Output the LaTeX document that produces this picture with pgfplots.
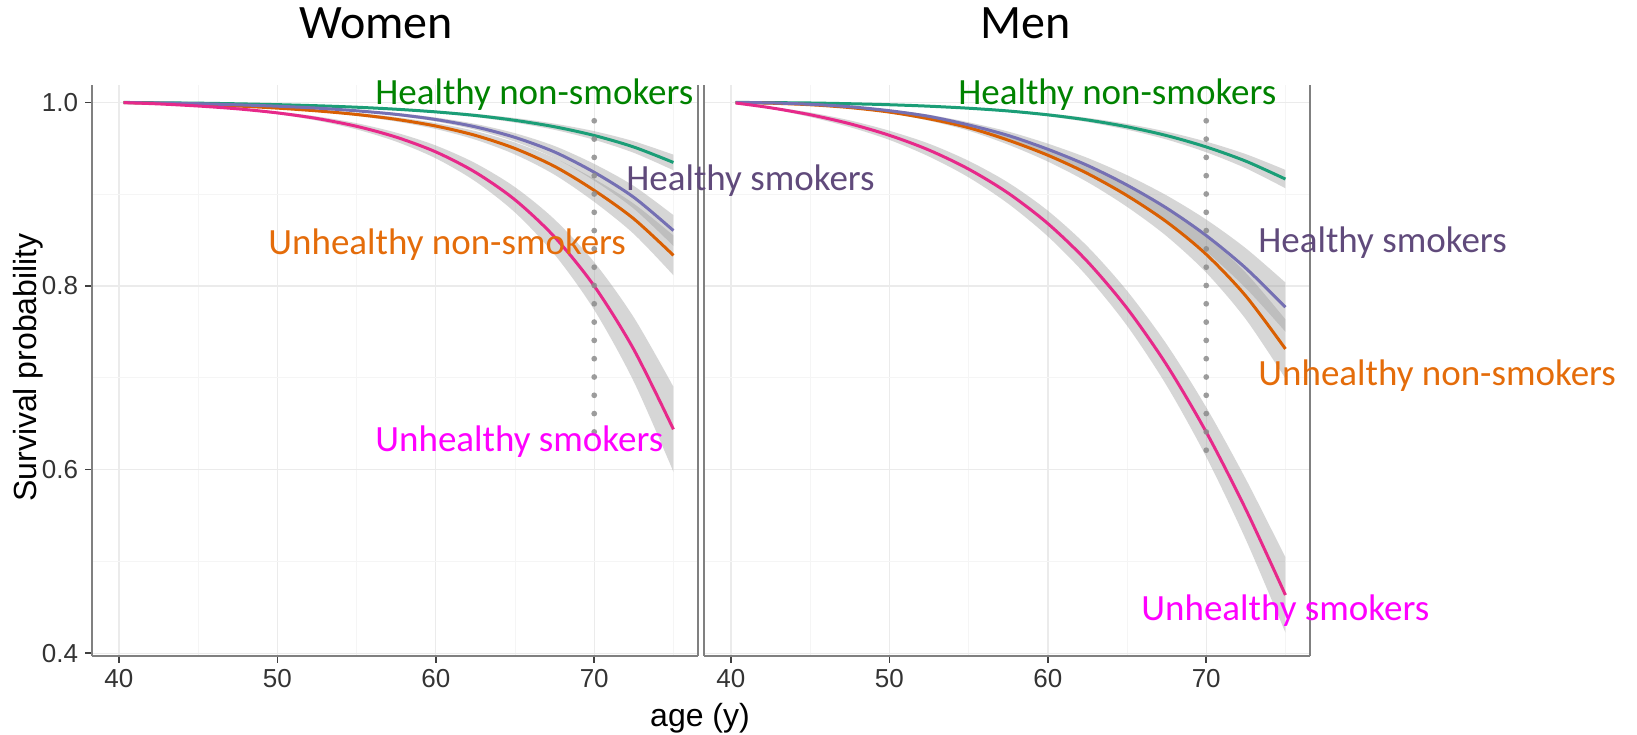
\documentclass[border=0pt]{standalone}
\usepackage{fontspec}
\setmainfont{Liberation Sans}
\newfontfamily\calibri{Carlito}
\usepackage{pgfplots}
\pgfplotsset{compat=1.18}
\usepackage{pgfplotstable}
\usepgfplotslibrary{fillbetween}

\definecolor{cgreen}{RGB}{27,158,119}
\definecolor{corange}{RGB}{217,95,2}
\definecolor{cpurple}{RGB}{117,112,179}
\definecolor{cpink}{RGB}{231,41,138}
\definecolor{cband}{RGB}{153,153,153}
\definecolor{cdot}{RGB}{140,140,140}
\definecolor{lgreen}{RGB}{0,130,0}
\definecolor{lpurple}{RGB}{96,74,123}
\definecolor{lorange}{RGB}{228,108,10}
\definecolor{lmagenta}{RGB}{255,0,255}

% Women
\pgfplotstableread{
x s lo hi
40.3 1.0000 1.0000 1.0000
42.5 0.9996 0.9995 0.9997
45 0.9992 0.9991 0.9993
47.5 0.9985 0.9983 0.9987
50 0.9976 0.9973 0.9979
52.5 0.9964 0.9959 0.9969
55 0.9948 0.9941 0.9955
57.5 0.9926 0.9916 0.9936
60 0.9897 0.9884 0.9910
62.5 0.9858 0.9840 0.9876
65 0.9805 0.9780 0.9830
67.5 0.9735 0.9701 0.9769
70 0.9640 0.9593 0.9687
72.5 0.9514 0.9451 0.9577
75 0.9346 0.9261 0.9431
}\wgreen
\pgfplotstableread{
x s lo hi
40.3 0.9999 0.9999 0.9999
42.5 0.9994 0.9993 0.9995
45 0.9986 0.9984 0.9988
47.5 0.9974 0.9971 0.9977
50 0.9959 0.9954 0.9964
52.5 0.9938 0.9931 0.9945
55 0.9909 0.9898 0.9920
57.5 0.9870 0.9854 0.9886
60 0.9814 0.9792 0.9836
62.5 0.9734 0.9702 0.9766
65 0.9619 0.9573 0.9665
67.5 0.9460 0.9395 0.9525
70 0.9239 0.9148 0.9330
72.5 0.8966 0.8842 0.9090
75 0.8604 0.8436 0.8772
}\wpurple
\pgfplotstableread{
x s lo hi
40.3 0.9999 0.9999 0.9999
42.5 0.9990 0.9989 0.9991
45 0.9978 0.9975 0.9981
47.5 0.9961 0.9956 0.9966
50 0.9938 0.9930 0.9946
52.5 0.9908 0.9896 0.9920
55 0.9869 0.9852 0.9886
57.5 0.9816 0.9792 0.9840
60 0.9743 0.9710 0.9776
62.5 0.9641 0.9594 0.9688
65 0.9498 0.9433 0.9563
67.5 0.9303 0.9212 0.9394
70 0.9042 0.8917 0.9167
72.5 0.8732 0.8567 0.8897
75 0.8334 0.8117 0.8551
}\worange
\pgfplotstableread{
x s lo hi
40.3 0.9998 0.9998 0.9998
42.5 0.9984 0.9982 0.9986
45 0.9961 0.9956 0.9966
47.5 0.9930 0.9921 0.9939
50 0.9886 0.9871 0.9901
52.5 0.9825 0.9802 0.9848
55 0.9740 0.9706 0.9774
57.5 0.9622 0.9573 0.9671
60 0.9461 0.9391 0.9531
62.5 0.9239 0.9140 0.9338
65 0.8939 0.8801 0.9077
67.5 0.8534 0.8343 0.8725
70 0.8000 0.7740 0.8260
72.5 0.7308 0.6958 0.7658
75 0.6439 0.5976 0.6902
}\wpink
% Men
\pgfplotstableread{
x s lo hi
40.3 1.0000 1.0000 1.0000
42.5 0.9998 0.9998 0.9998
45 0.9994 0.9993 0.9995
47.5 0.9986 0.9984 0.9988
50 0.9975 0.9972 0.9978
52.5 0.9959 0.9954 0.9964
55 0.9937 0.9929 0.9945
57.5 0.9907 0.9896 0.9918
60 0.9865 0.9849 0.9881
62.5 0.9809 0.9786 0.9832
65 0.9735 0.9703 0.9767
67.5 0.9639 0.9596 0.9682
70 0.9515 0.9457 0.9573
72.5 0.9360 0.9283 0.9437
75 0.9165 0.9065 0.9265
}\mgreen
\pgfplotstableread{
x s lo hi
40.3 0.9999 0.9999 0.9999
42.5 0.9995 0.9994 0.9996
45 0.9980 0.9978 0.9982
47.5 0.9953 0.9947 0.9959
50 0.9910 0.9899 0.9921
52.5 0.9848 0.9830 0.9866
55 0.9755 0.9726 0.9784
57.5 0.9640 0.9597 0.9683
60 0.9490 0.9429 0.9551
62.5 0.9314 0.9232 0.9396
65 0.9100 0.8992 0.9208
67.5 0.8849 0.8711 0.8987
70 0.8550 0.8376 0.8724
72.5 0.8194 0.7977 0.8411
75 0.7770 0.7502 0.8038
}\mpurple
\pgfplotstableread{
x s lo hi
40.3 0.9999 0.9999 0.9999
42.5 0.9992 0.9991 0.9993
45 0.9975 0.9972 0.9978
47.5 0.9944 0.9937 0.9951
50 0.9895 0.9882 0.9908
52.5 0.9822 0.9801 0.9843
55 0.9725 0.9692 0.9758
57.5 0.9589 0.9540 0.9638
60 0.9425 0.9356 0.9494
62.5 0.9226 0.9133 0.9319
65 0.8985 0.8863 0.9107
67.5 0.8699 0.8543 0.8855
70 0.8345 0.8146 0.8544
72.5 0.7891 0.7638 0.8144
75 0.7315 0.6993 0.7637
}\morange
\pgfplotstableread{
x s lo hi
40.3 0.9994 0.9991 0.9997
42.5 0.9942 0.9930 0.9954
45 0.9866 0.9841 0.9891
47.5 0.9768 0.9731 0.9805
50 0.9642 0.9592 0.9692
52.5 0.9481 0.9411 0.9551
55 0.9274 0.9184 0.9364
57.5 0.9012 0.8897 0.9127
60 0.8681 0.8541 0.8821
62.5 0.8267 0.8102 0.8432
65 0.7758 0.7568 0.7948
67.5 0.7141 0.6916 0.7366
70 0.6409 0.6139 0.6679
72.5 0.5567 0.5237 0.5897
75 0.4634 0.4224 0.5044
}\mpink

\pgfplotsset{
  panel/.style={
    scale only axis, width=303bp, height=285.5bp,
    anchor=south west,
    xmin=38.3, xmax=76.55, ymin=0.397, ymax=1.019,
    axis x line*=bottom, axis y line*=left,
    axis line style={-, draw=gray},
    x axis line style={line width=1.3bp},
    y axis line style={line width=0.8bp},
    xtick={40,50,60,70}, ytick={0.4,0.6,0.8,1.0},
    minor xtick={45,55,65,75}, minor ytick={0.5,0.7,0.9},
    minor tick length=0pt,
    tick align=outside, major tick length=3.5bp,
    tick style={black!75, line width=0.8bp},
    grid=both,
    major grid style={draw=black!8, line width=0.7bp},
    minor grid style={draw=black!4, line width=0.5bp},
    ticklabel style={font=\fontsize{13bp}{15bp}\selectfont, text=black!80},
    xticklabels={40,50,60,70},
    xticklabel style={inner sep=3bp},
    clip=false,
  },
  band/.style={fill=cband, fill opacity=0.4, draw=none},
  edge/.style={draw=none, smooth},
  curve/.style={smooth, line width=1.5bp},
  vdots/.style={cdot, opacity=0.85, line width=2.9bp, line cap=round, dash pattern=on 0pt off 9.15bp},
}

\newcommand{\labfont}{\calibri\fontsize{18.5bp}{22bp}\selectfont}

\begin{document}
\begin{tikzpicture}
\path (0,0) rectangle (818.5bp,367.5bp);

% ---------------- Women ----------------
\begin{axis}[panel, name=wpanel, at={(46bp,39.5bp)},
  yticklabels={0.4,0.6,0.8,1.0}]
  \addplot[edge, name path=wgA] table[x=x,y=lo]{\wgreen};
  \addplot[edge, name path=wgB] table[x=x,y=hi]{\wgreen};
  \addplot[band] fill between[of=wgA and wgB];
  \addplot[edge, name path=woA] table[x=x,y=lo]{\worange};
  \addplot[edge, name path=woB] table[x=x,y=hi]{\worange};
  \addplot[band] fill between[of=woA and woB];
  \addplot[edge, name path=wpA] table[x=x,y=lo]{\wpurple};
  \addplot[edge, name path=wpB] table[x=x,y=hi]{\wpurple};
  \addplot[band] fill between[of=wpA and wpB];
  \addplot[edge, name path=wkA] table[x=x,y=lo]{\wpink};
  \addplot[edge, name path=wkB] table[x=x,y=hi]{\wpink};
  \addplot[band] fill between[of=wkA and wkB];
  \addplot[curve, cgreen] table[x=x,y=s]{\wgreen};
  \addplot[curve, corange] table[x=x,y=s]{\worange};
  \addplot[curve, cpurple] table[x=x,y=s]{\wpurple};
  \addplot[curve, cpink] table[x=x,y=s]{\wpink};
  \addplot[vdots] coordinates {(70,0.98) (70,0.64)};
\end{axis}
\draw[gray, line width=0.8bp] (wpanel.south east) -- (wpanel.north east);

% ---------------- Men ----------------
\begin{axis}[panel, name=mpanel, at={(352bp,39.5bp)},
  yticklabels={}, ytick style={draw=none}]
  \addplot[edge, name path=mgA] table[x=x,y=lo]{\mgreen};
  \addplot[edge, name path=mgB] table[x=x,y=hi]{\mgreen};
  \addplot[band] fill between[of=mgA and mgB];
  \addplot[edge, name path=moA] table[x=x,y=lo]{\morange};
  \addplot[edge, name path=moB] table[x=x,y=hi]{\morange};
  \addplot[band] fill between[of=moA and moB];
  \addplot[edge, name path=mpA] table[x=x,y=lo]{\mpurple};
  \addplot[edge, name path=mpB] table[x=x,y=hi]{\mpurple};
  \addplot[band] fill between[of=mpA and mpB];
  \addplot[edge, name path=mkA] table[x=x,y=lo]{\mpink};
  \addplot[edge, name path=mkB] table[x=x,y=hi]{\mpink};
  \addplot[band] fill between[of=mkA and mkB];
  \addplot[curve, cgreen] table[x=x,y=s]{\mgreen};
  \addplot[curve, corange] table[x=x,y=s]{\morange};
  \addplot[curve, cpurple] table[x=x,y=s]{\mpurple};
  \addplot[curve, cpink] table[x=x,y=s]{\mpink};
  \addplot[vdots] coordinates {(70,0.98) (70,0.62)};
\end{axis}
\draw[gray, line width=0.8bp] (mpanel.south east) -- (mpanel.north east);

% axis titles
\node[rotate=90, font=\fontsize{16bp}{19bp}\selectfont, inner sep=0] at (14bp,183.75bp) {Survival probability};
\node[anchor=base, font=\fontsize{16bp}{19bp}\selectfont, inner sep=0] at (350bp,4.5bp) {age (y)};

% panel titles
\node[anchor=base, inner sep=0, font=\calibri\fontsize{24bp}{28bp}\selectfont] at (188bp,348bp) {Women};
\node[anchor=base, inner sep=0, font=\calibri\fontsize{24bp}{28bp}\selectfont] at (513bp,348bp) {Men};

% series labels
\node[anchor=base west, inner sep=0, text=lgreen, font=\labfont] at (187.5bp,315bp) {Healthy non-smokers};
\node[anchor=base west, inner sep=0, text=lpurple, font=\labfont] at (313bp,272bp) {Healthy smokers};
\node[anchor=base west, inner sep=0, text=lorange, font=\labfont] at (134bp,240bp) {Unhealthy non-smokers};
\node[anchor=base west, inner sep=0, text=lmagenta, font=\labfont] at (187.5bp,141.6bp) {Unhealthy smokers};
\node[anchor=base west, inner sep=0, text=lgreen, font=\labfont] at (479bp,315bp) {Healthy non-smokers};
\node[anchor=base west, inner sep=0, text=lpurple, font=\labfont] at (629bp,241.2bp) {Healthy smokers};
\node[anchor=base west, inner sep=0, text=lorange, font=\labfont] at (629bp,174.5bp) {Unhealthy non-smokers};
\node[anchor=base west, inner sep=0, text=lmagenta, font=\labfont] at (570.5bp,57.2bp) {Unhealthy smokers};
\end{tikzpicture}
\end{document}
